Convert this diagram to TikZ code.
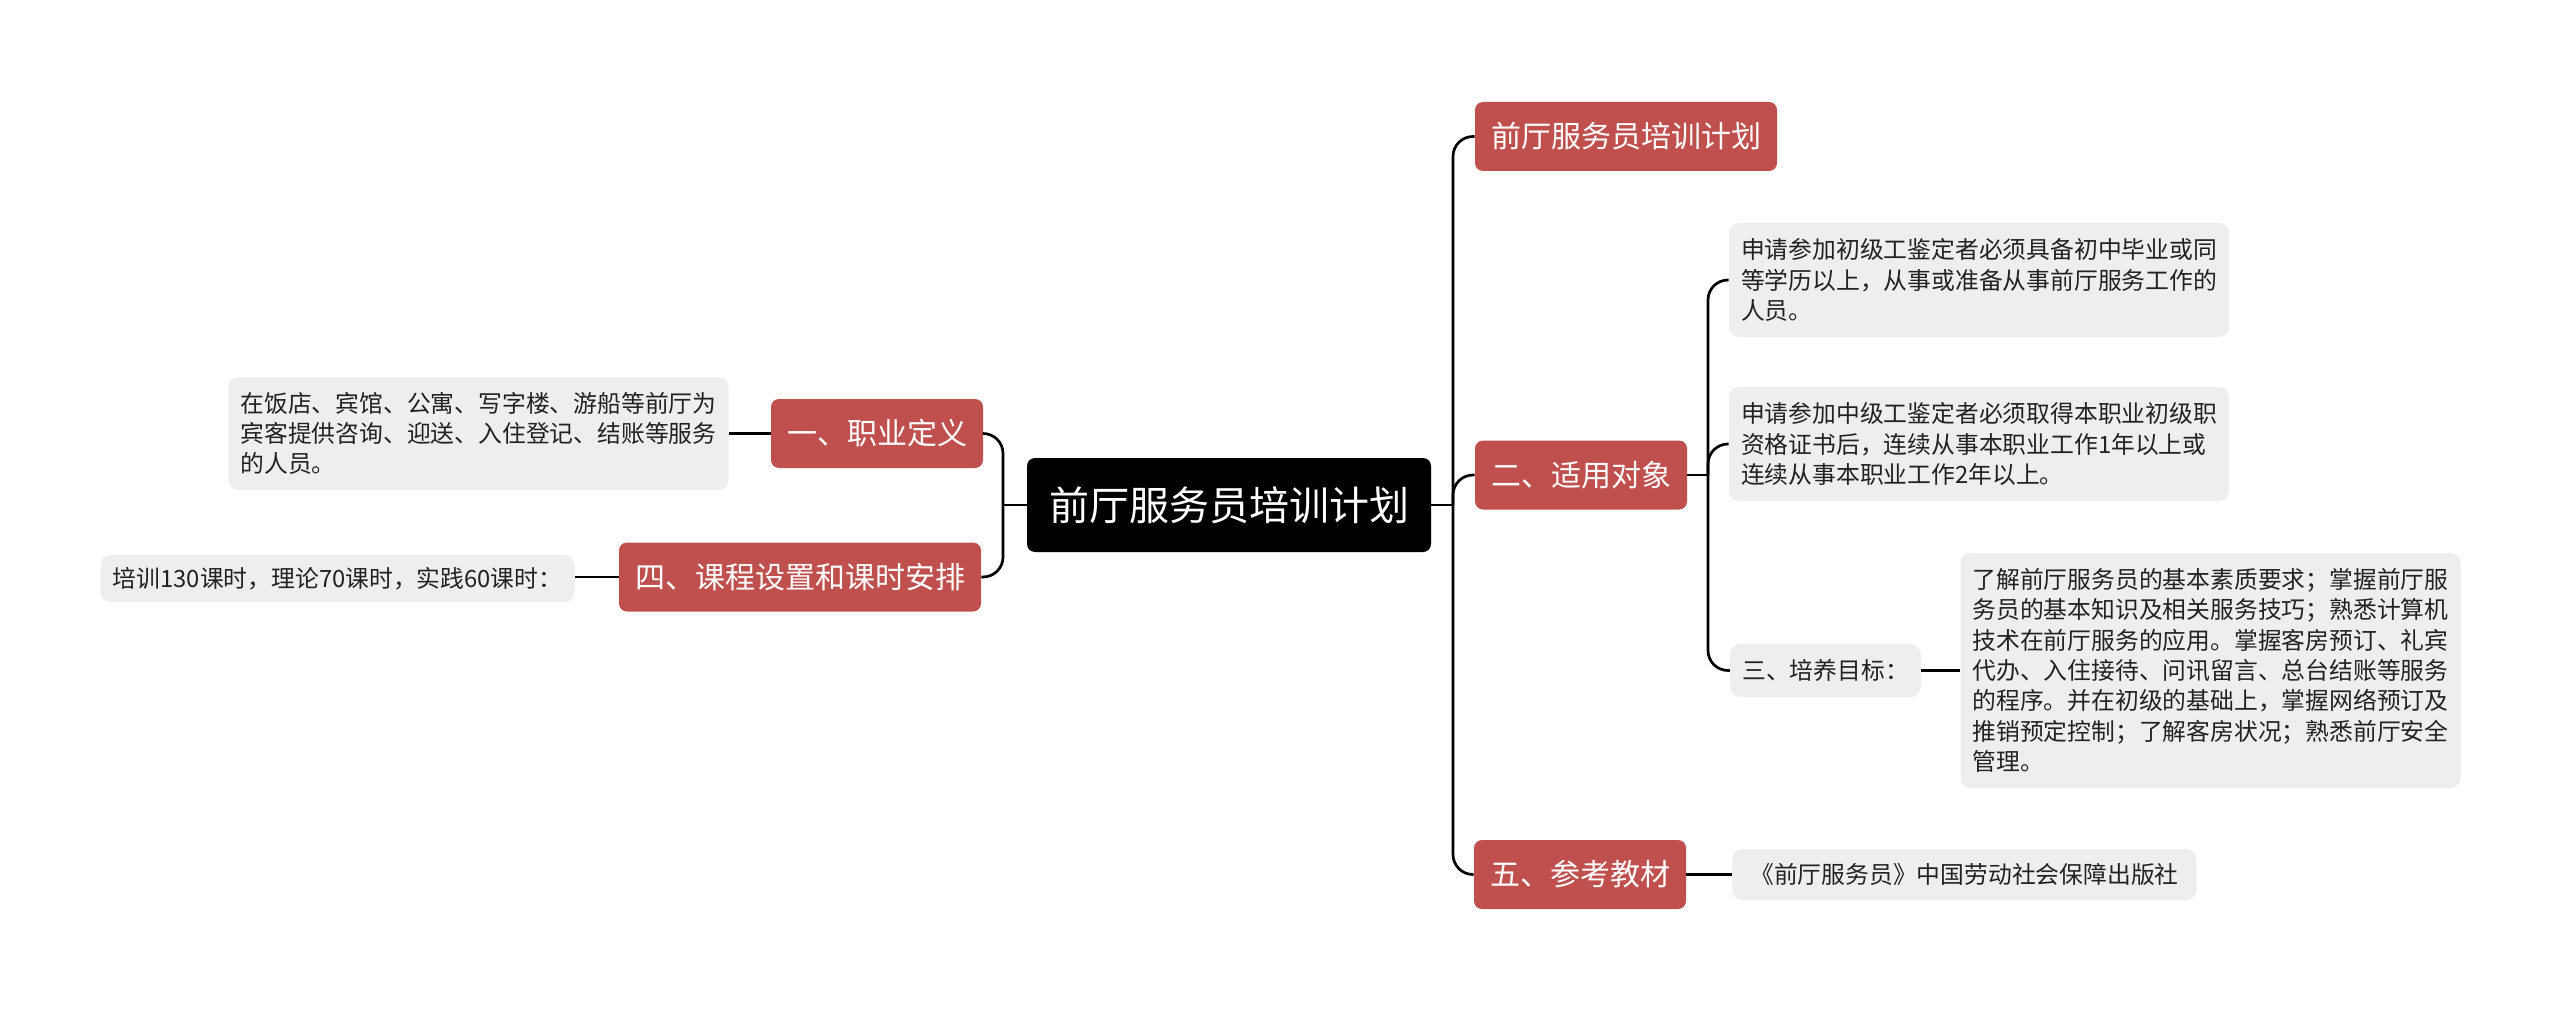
\documentclass[tikz,border=0pt]{standalone}
\usepackage{fontspec}
\setmainfont{Noto Sans CJK SC}
\definecolor{redn}{HTML}{C0504D}
\definecolor{leafc}{HTML}{EEEEEE}
\definecolor{leaftext}{HTML}{222222}
\begin{document}
\begin{tikzpicture}[x=0.5pt,y=-0.5pt,
  central/.style={fill=black, text=white, rounded corners=4pt, font=\fontsize{20}{24}\selectfont, minimum width=202pt, minimum height=47pt, inner sep=0pt},
  redbox/.style={fill=redn, text=white, rounded corners=4pt, font=\fontsize{15}{18}\selectfont, minimum height=34.5pt, inner sep=0pt},
  leafbox/.style={fill=leafc, text=leaftext, rounded corners=5pt, font=\fontsize{11.9}{15.2}\selectfont, align=left, inner xsep=6pt, inner ysep=0pt},
  link/.style={draw=black, line width=1.35pt, rounded corners=10pt}]
\useasboundingbox[fill=white] (0,0) rectangle (2560,1011);

% central
\node[central] (C) at (1229,505) {前厅服务员培训计划};

% right main branches
\node[redbox, minimum width=151pt] (R0) at (1626,136.5) {前厅服务员培训计划};
\node[redbox, minimum width=106pt] (R2) at (1581,475) {二、适用对象};
\node[redbox, minimum width=106pt] (R5) at (1580,874.5) {五、参考教材};

% left main branches
\node[redbox, minimum width=106pt] (L1) at (877,433.5) {一、职业定义};
\node[redbox, minimum width=181pt] (L4) at (800,577) {四、课程设置和课时安排};

% leaves of 二
\node[leafbox, minimum width=247pt, minimum height=57pt] (A1) at (1979,280)
  {申请参加初级工鉴定者必须具备初中毕业或同\\等学历以上，从事或准备从事前厅服务工作的\\人员。};
\node[leafbox, minimum width=247pt, minimum height=57pt] (A2) at (1979,444)
  {申请参加中级工鉴定者必须取得本职业初级职\\资格证书后，连续从事本职业工作1年以上或\\连续从事本职业工作2年以上。};
\node[leafbox, minimum width=93.5pt, minimum height=26.5pt] (A3) at (1825.5,670.5) {三、培养目标：};
\node[leafbox, minimum width=247.5pt, minimum height=117.5pt] (A3L) at (2210.5,670.5)
  {了解前厅服务员的基本素质要求；掌握前厅服\\务员的基本知识及相关服务技巧；熟悉计算机\\技术在前厅服务的应用。掌握客房预订、礼宾\\代办、入住接待、问讯留言、总台结账等服务\\的程序。并在初级的基础上，掌握网络预订及\\推销预定控制；了解客房状况；熟悉前厅安全\\管理。};

% leaf of 五
\node[leafbox, anchor=west, minimum width=232pt, minimum height=25.5pt] (A5) at (1732,874.5) {《前厅服务员》中国劳动社会保障出版社};

% left leaves
\node[leafbox, minimum width=248.5pt, minimum height=56.5pt] (L1L) at (478.5,433.5)
  {在饭店、宾馆、公寓、写字楼、游船等前厅为\\宾客提供咨询、迎送、入住登记、结账等服务\\的人员。};
\node[leafbox, anchor=east, minimum width=237pt, minimum height=23.5pt] (L4L) at (575,578.5) {培训130课时，理论70课时，实践60课时：};

% junctions
\coordinate (JR) at (1453,505);
\coordinate (JL) at (1003,505);
\coordinate (J2) at (1708,475);

% connectors right
\draw[link] (C.east) -- (JR);
\draw[link] (JR) |- (R0.west);
\draw[link] (JR) |- (R2.west);
\draw[link] (JR) |- (R5.west);

% connectors of 二
\draw[link] (R2.east) -- (J2);
\draw[link] (J2) |- (A1.west);
\draw[link] (J2) |- (A2.west);
\draw[link] (J2) |- (A3.west);
\draw[link] (A3.east) -- (A3L.west);

% 五
\draw[link] (R5.east) -- (R5.east -| A5.west);

% left
\draw[link] (C.west) -- (JL);
\draw[link] (JL) |- (L1.east);
\draw[link] (JL) |- (L4.east);
\draw[link] (L1.west) -- (L1.west -| L1L.east);
\draw[link] (L4.west) -- (L4.west -| L4L.east);
\end{tikzpicture}
\end{document}
